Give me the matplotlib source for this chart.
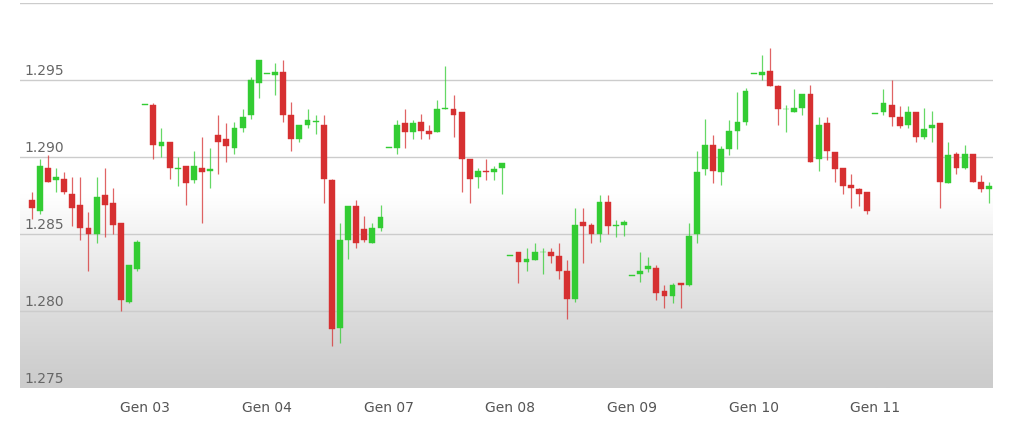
import matplotlib
matplotlib.use("Agg")
import matplotlib.pyplot as plt
import numpy as np

opens = [1.2872,1.2865,1.2893,1.2885,1.2886,1.2876,1.2869,1.2854,1.2850,1.2875,1.2870,1.2857,1.2806,1.2827,
 1.2934,1.2934,1.2907,1.2910,1.2892,1.2894,1.2885,1.2893,1.2891,1.2914,1.2912,1.2906,1.2919,1.2927,1.2948,
 1.2954,1.2953,1.2955,1.2927,1.2912,1.2921,1.2923,1.2921,1.2885,1.2789,1.2846,1.2868,1.2853,1.2844,1.2854,
 1.2906,1.2906,1.2922,1.2916,1.2923,1.2917,1.2916,1.2931,1.2931,1.2929,1.2899,1.2887,1.2891,1.2890,1.2893,
 1.2836,1.2838,1.2832,1.2833,1.2838,1.2838,1.2836,1.2826,1.2808,1.2858,1.2856,1.2850,1.2871,1.2855,1.2856,
 1.2823,1.2824,1.2827,1.2828,1.2813,1.2810,1.2818,1.2817,1.2850,1.2892,1.2908,1.2890,1.2905,1.2917,1.2923,
 1.2954,1.2953,1.2956,1.2946,1.2931,1.2929,1.2932,1.2941,1.2899,1.2922,1.2903,1.2893,1.2882,1.2879,1.2877,
 1.2928,1.2929,1.2934,1.2926,1.2921,1.2929,1.2913,1.2919,1.2922,1.2883,1.2902,1.2893,1.2902,1.2884,1.2879]
closes = [1.2867,1.2894,1.2884,1.2887,1.2877,1.2867,1.2854,1.2850,1.2874,1.2869,1.2856,1.2807,1.2830,1.2845,
 1.2934,1.2908,1.2910,1.2893,1.2893,1.2883,1.2894,1.2890,1.2892,1.2910,1.2907,1.2919,1.2926,1.2950,1.2963,
 1.2954,1.2955,1.2927,1.2912,1.2921,1.2924,1.2923,1.2886,1.2788,1.2846,1.2868,1.2844,1.2846,1.2854,1.2861,
 1.2906,1.2921,1.2916,1.2922,1.2917,1.2915,1.2931,1.2932,1.2927,1.2899,1.2886,1.2891,1.2890,1.2892,1.2896,
 1.2836,1.2832,1.2834,1.2838,1.2838,1.2836,1.2826,1.2808,1.2856,1.2855,1.2850,1.2871,1.2855,1.2856,1.2858,
 1.2823,1.2826,1.2829,1.2812,1.2810,1.2817,1.2817,1.2849,1.2890,1.2908,1.2891,1.2905,1.2917,1.2923,1.2943,
 1.2954,1.2955,1.2946,1.2931,1.2931,1.2932,1.2941,1.2897,1.2921,1.2904,1.2892,1.2881,1.2880,1.2876,1.2865,
 1.2928,1.2935,1.2926,1.2920,1.2929,1.2913,1.2918,1.2921,1.2884,1.2901,1.2893,1.2902,1.2884,1.2879,1.2881]
highs = [1.2877,1.2899,1.2901,1.2893,1.2890,1.2887,1.2887,1.2864,1.2887,1.2893,1.2880,1.2857,1.2830,1.2846,
 1.2934,1.2935,1.2919,1.2910,1.2900,1.2894,1.2904,1.2913,1.2906,1.2927,1.2922,1.2923,1.2931,1.2952,1.2963,
 1.2954,1.2961,1.2963,1.2936,1.2921,1.2931,1.2927,1.2927,1.2886,1.2857,1.2868,1.2872,1.2862,1.2857,1.2869,
 1.2906,1.2924,1.2931,1.2924,1.2928,1.2921,1.2937,1.2959,1.2940,1.2929,1.2899,1.2893,1.2899,1.2894,1.2896,
 1.2836,1.2838,1.2841,1.2844,1.2841,1.2841,1.2844,1.2833,1.2867,1.2867,1.2857,1.2875,1.2875,1.2859,1.2859,
 1.2823,1.2838,1.2835,1.2830,1.2817,1.2818,1.2818,1.2857,1.2904,1.2925,1.2914,1.2907,1.2924,1.2942,1.2945,
 1.2954,1.2966,1.2971,1.2947,1.2934,1.2944,1.2941,1.2947,1.2926,1.2926,1.2903,1.2893,1.2889,1.2880,1.2877,
 1.2928,1.2944,1.2950,1.2933,1.2933,1.2929,1.2932,1.2930,1.2922,1.2910,1.2903,1.2908,1.2902,1.2888,1.2884]
lows = [1.2860,1.2863,1.2884,1.2877,1.2876,1.2855,1.2846,1.2826,1.2844,1.2848,1.2850,1.2800,1.2805,1.2826,
 1.2934,1.2899,1.2900,1.2886,1.2881,1.2869,1.2883,1.2857,1.2880,1.2889,1.2897,1.2902,1.2916,1.2925,1.2938,
 1.2954,1.2940,1.2923,1.2904,1.2910,1.2919,1.2915,1.2870,1.2777,1.2779,1.2834,1.2841,1.2845,1.2844,1.2852,
 1.2906,1.2902,1.2906,1.2912,1.2912,1.2912,1.2916,1.2931,1.2913,1.2877,1.2870,1.2880,1.2885,1.2885,1.2876,
 1.2836,1.2818,1.2826,1.2833,1.2824,1.2831,1.2821,1.2795,1.2806,1.2831,1.2844,1.2845,1.2850,1.2848,1.2849,
 1.2823,1.2819,1.2825,1.2807,1.2802,1.2805,1.2802,1.2816,1.2844,1.2888,1.2883,1.2882,1.2901,1.2905,1.2921,
 1.2954,1.2950,1.2946,1.2921,1.2916,1.2929,1.2927,1.2897,1.2891,1.2898,1.2884,1.2876,1.2867,1.2868,1.2863,
 1.2928,1.2927,1.2920,1.2919,1.2919,1.2910,1.2912,1.2910,1.2867,1.2883,1.2889,1.2892,1.2884,1.2877,1.2870]
day_labels = ["Gen 03","Gen 04","Gen 07","Gen 08","Gen 09","Gen 10","Gen 11"]
day_start_idx = [14, 29, 44, 59, 74, 89, 104]
yticks = [1.275, 1.280, 1.285, 1.290, 1.295]

GREEN = "#33cc33"
RED = "#d63031"

fig = plt.figure(figsize=(10.12, 4.23), dpi=100)
ax = fig.add_axes([20/1012, 35/423, 973/1012, 385/423])
ax.set_xlim(-1.44, 118.5)
ax.set_ylim(1.275, 1.300)

# background gradient
grad = np.ones((200, 1))
t = np.linspace(0, 1, 200)  # 0 bottom, 1 top
g = np.where(t > 0.5, 1.0, 0.80 + 0.20 * (t / 0.5) ** 1.2)
img = np.dstack([g, g, g]).reshape(200, 1, 3)
ax.imshow(img, extent=[0, 1, 0, 1], transform=ax.transAxes, aspect="auto",
          origin="lower", zorder=0)

for y in yticks + [1.300]:
    ax.axhline(y, color="#cccccc", lw=1, zorder=1)

x = np.arange(len(opens))
for i in x:
    o, c, h, l = opens[i], closes[i], highs[i], lows[i]
    col = GREEN if c >= o else RED
    ax.vlines(i, l, h, color=col, lw=0.9, alpha=0.75, zorder=2)
    bot = min(o, c)
    hgt = max(abs(c - o), 0.00004)
    ax.bar(i, hgt, bottom=bot, width=0.72, color=col, edgecolor=col, lw=0.3, zorder=3)

for s in ax.spines.values():
    s.set_visible(False)
ax.set_yticks([])
for y in yticks:
    ax.text(0.005, y + 0.0001, f"{y:.3f}", transform=ax.get_yaxis_transform(),
            ha="left", va="bottom", fontsize=10, color="#666666", zorder=4)
ax.set_xticks(day_start_idx)
ax.set_xticklabels(day_labels, fontsize=10, color="#555555")
ax.tick_params(axis="x", length=0, pad=9)

fig.savefig("out.png", dpi=100)
